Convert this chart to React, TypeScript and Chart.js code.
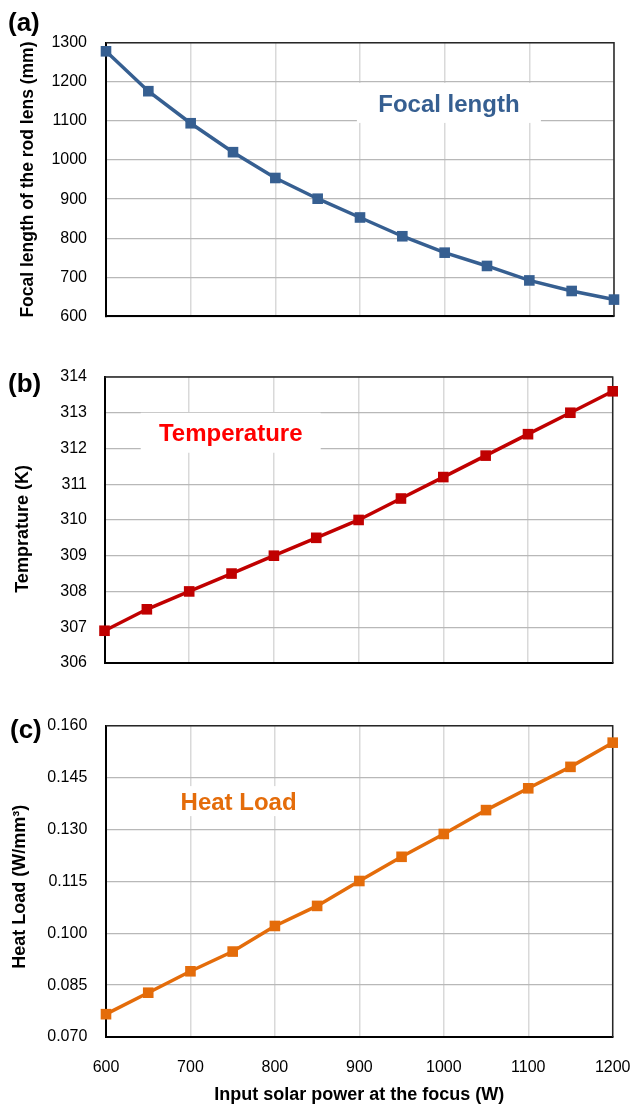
import React, { useEffect, useRef } from 'react';
import { Chart, registerables } from 'chart.js';

Chart.register(...registerables);

// ---------- data ----------
const POWER = [600, 650, 700, 750, 800, 850, 900, 950, 1000, 1050, 1100, 1150, 1200];
const FOCAL = [1278, 1176, 1094, 1020, 954, 901, 853, 805, 763, 729, 692, 665, 643];
const TEMP = [306.9, 307.5, 308.0, 308.5, 309.0, 309.5, 310.0, 310.6, 311.2, 311.8, 312.4, 313.0, 313.6];
const HEAT = [0.0766, 0.0828, 0.089, 0.0947, 0.1021, 0.1079, 0.1151, 0.1221, 0.1287, 0.1356, 0.1419, 0.1481, 0.1551];

const X_MIN = 600;
const X_MAX = 1200;
const X_STEP = 100;

const FONT = '"Liberation Sans", Arial, Helvetica, sans-serif';

type Ann = { text: string; x: number; y: number; color: string; boxW: number; boxH: number };
type YTitle = { text: string; x: number; dy: number; size: number };

type PanelProps = {
  top: number;
  height: number;
  padTop: number;
  padBottom: number;
  axisLeft: number;
  padRight: number;
  xAxisHeight: number;
  showXLabels: boolean;
  xTitle?: string;
  yTitle: YTitle;
  yTickPad: number;
  yMin: number;
  yMax: number;
  yStep: number;
  yDecimals: number;
  values: number[];
  lineColor: string;
  panelLabel: string;
  panelLabelY: number;
  panelLabelX: number;
  ann: Ann;
};

const framePlugin = {
  id: 'frame',
  beforeDatasetsDraw(chart: any) {
    const { ctx, chartArea } = chart;
    const { left, right, top, bottom } = chartArea;
    ctx.save();
    ctx.strokeStyle = '#262626';
    ctx.lineWidth = 1.5;
    ctx.beginPath();
    ctx.moveTo(left, top);
    ctx.lineTo(right, top);
    ctx.lineTo(right, bottom);
    ctx.stroke();
    ctx.restore();
    const ann = chart.options.plugins.annot as Ann;
    if (ann) {
      const cx = chart.scales.x.getPixelForValue(ann.x);
      const cy = chart.scales.y.getPixelForValue(ann.y);
      ctx.save();
      ctx.fillStyle = '#ffffff';
      ctx.fillRect(cx - ann.boxW / 2, cy - ann.boxH / 2, ann.boxW, ann.boxH);
      ctx.fillStyle = ann.color;
      ctx.font = `bold 24px ${FONT}`;
      ctx.textAlign = 'center';
      ctx.textBaseline = 'middle';
      ctx.fillText(ann.text, cx, cy + 2);
      ctx.restore();
    }
  },
  afterDraw(chart: any) {
    const { ctx, chartArea } = chart;
    const lbl = chart.options.plugins.panelLabel;
    if (lbl) {
      ctx.save();
      ctx.fillStyle = '#000';
      ctx.font = `bold 26px ${FONT}`;
      ctx.textAlign = 'left';
      ctx.textBaseline = 'middle';
      ctx.fillText(lbl.text, lbl.x, lbl.y);
      ctx.restore();
    }
    const yt = chart.options.plugins.yTitle as YTitle;
    if (yt) {
      const cy = (chartArea.top + chartArea.bottom) / 2 + yt.dy;
      ctx.save();
      ctx.translate(yt.x, cy);
      ctx.rotate(-Math.PI / 2);
      ctx.fillStyle = '#000';
      ctx.font = `bold ${yt.size}px ${FONT}`;
      ctx.textAlign = 'center';
      ctx.textBaseline = 'middle';
      ctx.fillText(yt.text, 0, 0);
      ctx.restore();
    }
  },
};

function Panel(p: PanelProps) {
  const ref = useRef<HTMLCanvasElement | null>(null);
  useEffect(() => {
    if (!ref.current) return;
    const chart = new Chart(ref.current, {
      type: 'line',
      data: {
        datasets: [
          {
            data: POWER.map((x, i) => ({ x, y: p.values[i] })),
            borderColor: p.lineColor,
            backgroundColor: p.lineColor,
            borderWidth: 3.5,
            pointStyle: 'rect',
            pointRadius: 7.5,
            pointBorderWidth: 0,
            pointBackgroundColor: p.lineColor,
            tension: 0,
            clip: false as any,
          },
        ],
      },
      options: {
        animation: false,
        responsive: false,
        devicePixelRatio: 1,
        layout: {
          padding: { top: p.padTop, bottom: p.padBottom, left: 0, right: p.padRight },
        },
        plugins: {
          legend: { display: false },
          tooltip: { enabled: false },
          annot: p.ann,
          yTitle: p.yTitle,
          panelLabel: { text: p.panelLabel, x: p.panelLabelX, y: p.panelLabelY },
        } as any,
        scales: {
          x: {
            type: 'linear',
            min: X_MIN,
            max: X_MAX,
            afterFit: (s: any) => {
              s.height = p.xAxisHeight;
              s.paddingLeft = 0;
              s.paddingRight = 0;
            },
            ticks: {
              display: p.showXLabels,
              stepSize: X_STEP,
              color: '#000',
              padding: 21,
              font: { family: FONT, size: 16 },
              callback: (v: any) => String(v),
            },
            grid: { color: '#d9d9d9', lineWidth: 1.5, drawTicks: false },
            border: { color: '#000', width: 2 },
            title: p.xTitle
              ? {
                  display: true,
                  text: p.xTitle,
                  color: '#000',
                  font: { family: FONT, size: 18, weight: 'bold' },
                  padding: { top: 0, bottom: 0 },
                }
              : { display: false },
          },
          y: {
            type: 'linear',
            min: p.yMin,
            max: p.yMax,
            afterFit: (s: any) => {
              s.width = p.axisLeft;
            },
            ticks: {
              stepSize: p.yStep,
              color: '#000',
              padding: p.yTickPad,
              font: { family: FONT, size: 16 },
              callback: (v: any) => Number(v).toFixed(p.yDecimals),
            },
            grid: { color: '#b8b8b8', lineWidth: 1.3, drawTicks: false },
            border: { color: '#000', width: 2 },
            title: { display: false },
          },
        },
      },
      plugins: [framePlugin],
    });
    return () => chart.destroy();
  }, []);
  return (
    <div style={{ position: 'absolute', left: 0, top: p.top, width: 632, height: p.height }}>
      <canvas ref={ref} width={632} height={p.height} style={{ width: 632, height: p.height, display: 'block' }} />
    </div>
  );
}

export default function App() {
  return (
    <div style={{ position: 'absolute', left: 0, top: 0, width: 632, height: 1106, background: '#fff', overflow: 'hidden' }}>
      <Panel
        top={0}
        height={345}
        padTop={42.7}
        padBottom={10}
        axisLeft={106}
        padRight={18}
        xAxisHeight={0}
        showXLabels={false}
        yTitle={{ text: 'Focal length of the rod lens (mm)', x: 28.5, dy: 0, size: 17.5 }}
        yTickPad={19}
        yMin={600}
        yMax={1300}
        yStep={100}
        yDecimals={0}
        values={FOCAL}
        lineColor="#365F91"
        panelLabel="(a)"
        panelLabelX={8}
        panelLabelY={24}
        ann={{ text: 'Focal length', x: 1005, y: 1146, color: '#365F91', boxW: 184, boxH: 40 }}
      />
      <Panel
        top={345}
        height={345}
        padTop={32}
        padBottom={8.3}
        axisLeft={104.5}
        padRight={19.3}
        xAxisHeight={0}
        showXLabels={false}
        yTitle={{ text: 'Temprature (K)', x: 23, dy: 9, size: 18 }}
        yTickPad={17.5}
        yMin={306}
        yMax={314}
        yStep={1}
        yDecimals={0}
        values={TEMP}
        lineColor="#C00000"
        panelLabel="(b)"
        panelLabelX={8}
        panelLabelY={40}
        ann={{ text: 'Temperature', x: 749, y: 312.44, color: '#FF0000', boxW: 180, boxH: 40 }}
      />
      <Panel
        top={690}
        height={416}
        padTop={35.7}
        padBottom={0}
        axisLeft={106}
        padRight={19.3}
        xAxisHeight={69}
        showXLabels={true}
        xTitle="Input solar power at the focus (W)"
        yTitle={{ text: 'Heat Load (W/mm³)', x: 20.5, dy: 5.5, size: 18 }}
        yTickPad={18.7}
        yMin={0.07}
        yMax={0.16}
        yStep={0.015}
        yDecimals={3}
        values={HEAT}
        lineColor="#E46C0A"
        panelLabel="(c)"
        panelLabelX={10}
        panelLabelY={41}
        ann={{ text: 'Heat Load', x: 757, y: 0.1382, color: '#E46C0A', boxW: 150, boxH: 30 }}
      />
    </div>
  );
}
